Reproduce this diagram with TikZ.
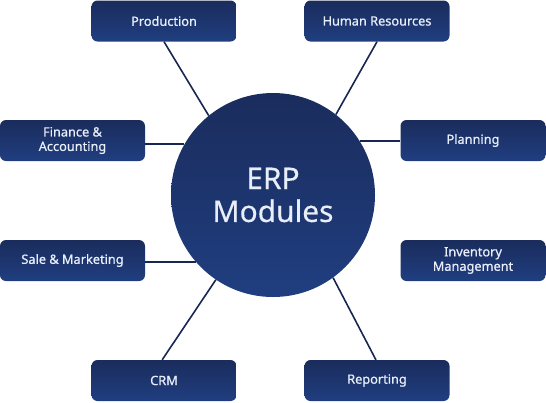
\documentclass[tikz,border=0pt]{standalone}
\usepackage{fontspec}
\setmainfont{Noto Sans}
\newfontfamily\modfont{Noto Sans}[RawFeature={embolden=0.8}]
\newfontfamily\hubfont{Noto Sans}[RawFeature={embolden=0.4}]
\definecolor{navytop}{RGB}{26,44,92}
\definecolor{navybot}{RGB}{32,62,128}
\definecolor{navyline}{RGB}{24,38,82}
\definecolor{labeltext}{RGB}{232,238,250}
\tikzset{
  module/.style={rectangle, rounded corners=6bp, minimum width=145bp, minimum height=41bp,
    top color=navytop, bottom color=navybot, draw=none, text=labeltext,
    font=\modfont\fontsize{12.8}{14.5}\selectfont, align=center, inner sep=2bp},
  hub/.style={circle, minimum size=204bp, top color=navytop, bottom color=navybot,
    draw=none, text=labeltext, font=\hubfont\fontsize{30}{33}\selectfont, align=center},
  link/.style={draw=navyline, line width=1.6bp}
}
\begin{document}
\begin{tikzpicture}[x=1bp, y=-1bp]
    \useasboundingbox (0,0) rectangle (546,402);
    % 中心
    \node[hub] (erp) at (273,195) {ERP\\Modules};

    % 模块
    \node[module] (prod) at (164,21) {Production};
    \node[module] (hr) at (377,21) {Human Resources};
    \node[module] (fin) at (72.5,140.5) {Finance \&\\Accounting};
    \node[module] (plan) at (473,140.5) {Planning};
    \node[module] (sale) at (72.5,260.5) {Sale \& Marketing};
    \node[module] (inv) at (473,260.5) {Inventory\\Management};
    \node[module] (crm) at (164,380.5) {CRM};
    \node[module] (rep) at (377,380.5) {Reporting};

    % 连线
    \draw[link] (prod.south) -- (erp.129);
    \draw[link] (hr.south) -- (erp.52);
    \draw[link] (erp.150) -- (erp.150 -| fin.east);
    \draw[link] (erp.32.6) -- (erp.32.6 -| plan.west);
    \draw[link] (erp.221) -- (erp.221 -| sale.east);
    \draw[link] (crm.95) -- (erp.236);
    \draw[link] (rep.93) -- (erp.306);
\end{tikzpicture}
\end{document}
